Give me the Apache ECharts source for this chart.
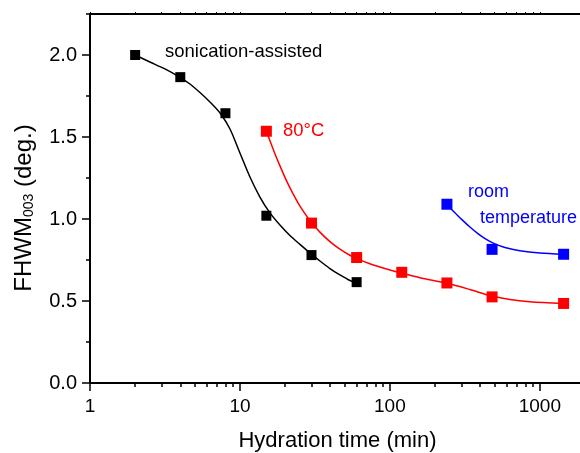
<!DOCTYPE html>
<html>
<head>
<meta charset="utf-8">
<script src="https://cdn.jsdelivr.net/npm/echarts@6/dist/echarts.min.js"></script>
<style>
html,body{margin:0;padding:0;background:#fff;}
#chart{width:580px;height:453px;}
</style>
</head>
<body>
<div id="chart"></div>
<script>
// Measured points
const sonicX = [2, 4, 8, 15, 30, 60];
const sonicY = [2.00, 1.865, 1.645, 1.02, 0.78, 0.615];
const hotX = [15, 30, 60, 120, 240, 480, 1440];
const hotY = [1.535, 0.975, 0.765, 0.675, 0.61, 0.525, 0.485];
const roomX = [240, 480, 1440];
const roomY = [1.09, 0.815, 0.785];

// Fitted curves
const sonicFitX = [2.0, 2.51, 3.16, 3.98, 4.64, 5.41, 6.31, 7.36, 8.58, 10.0, 11.66, 13.59, 15.85, 18.48, 21.54, 25.12, 29.29, 34.15, 39.81, 46.42, 54.12, 60];
const sonicFitY = [2.000, 1.957, 1.915, 1.864, 1.823, 1.771, 1.713, 1.646, 1.549, 1.402, 1.256, 1.134, 1.037, 0.963, 0.899, 0.845, 0.793, 0.744, 0.698, 0.659, 0.625, 0.610];
const hotFitX = [15.06, 15.85, 17.11, 18.48, 20.57, 22.56, 25.12, 29.29, 34.15, 39.81, 46.42, 54.12, 63.10, 73.56, 85.77, 100, 119.7, 158.5, 239.9, 341.5, 478.6, 631.0, 857.7, 1429];
const hotFitY = [1.532, 1.477, 1.398, 1.324, 1.228, 1.155, 1.078, 0.990, 0.920, 0.862, 0.816, 0.779, 0.751, 0.727, 0.707, 0.689, 0.670, 0.642, 0.608, 0.570, 0.530, 0.509, 0.496, 0.485];
const roomFitX = [238.8, 271.3, 302.0, 341.5, 386.2, 436.5, 501.2, 584.8, 735.6, 1000, 1430];
const roomFitY = [1.088, 1.038, 0.996, 0.951, 0.911, 0.877, 0.848, 0.826, 0.807, 0.793, 0.785];

// Tick values
const xMajorTicks = [1, 10, 100, 1000];
const xMinorTicks = [2,3,4,5,6,7,8,9,20,30,40,50,60,70,80,90,200,300,400,500,600,700,800,900];
const yMajorTicks = [0, 0.5, 1.0, 1.5, 2.0];
const yMinorTicks = [0.25, 0.75, 1.25, 1.75, 2.25];

const zip = (xs, ys) => xs.map((x, i) => [x, ys[i]]);
const FONT = 'Arial, "Liberation Sans", Helvetica, sans-serif';

const chart = echarts.init(document.getElementById('chart'), null, {renderer: 'canvas'});

const baseX = {type: 'log', logBase: 10, min: 1, max: 2000, splitLine: {show: false}};
const baseY = {type: 'value', min: 0, max: 2.25, interval: 0.25, splitLine: {show: false}};

chart.setOption({
  animation: false,
  backgroundColor: '#fff',
  grid: {left: 90, top: 14, width: 495, height: 369, containLabel: false, outerBoundsMode: 'none'},
  xAxis: [
    Object.assign({}, baseX, {
      position: 'bottom',
      name: 'Hydration time (min)', nameLocation: 'middle', nameGap: 47,
      nameTextStyle: {fontFamily: FONT, fontSize: 22, color: '#000'},
      axisLine: {lineStyle: {color: '#000', width: 2}},
      axisTick: {customValues: xMajorTicks, length: 8, lineStyle: {color: '#000', width: 1.5}},
      axisLabel: {customValues: xMajorTicks, fontFamily: FONT, fontSize: 19, color: '#000', margin: 14,
        formatter: v => String(Math.round(v))}
    }),
    Object.assign({}, baseX, {
      position: 'bottom',
      axisLine: {show: false},
      axisTick: {customValues: xMinorTicks, length: 4, lineStyle: {color: '#000', width: 1.5}},
      axisLabel: {show: false}
    }),
    Object.assign({}, baseX, {
      position: 'top',
      axisLine: {lineStyle: {color: '#000', width: 2}},
      axisTick: {customValues: xMajorTicks.concat(xMinorTicks), length: 2, lineStyle: {color: '#000', width: 1}},
      axisLabel: {show: false}
    })
  ],
  yAxis: [
    Object.assign({}, baseY, {
      position: 'left',
      axisLine: {lineStyle: {color: '#000', width: 2}},
      axisTick: {customValues: yMajorTicks, length: 8, lineStyle: {color: '#000', width: 1.5}},
      axisLabel: {customValues: yMajorTicks, fontFamily: FONT, fontSize: 20, color: '#000', margin: 13,
        formatter: v => Number(v).toFixed(1)}
    }),
    Object.assign({}, baseY, {
      position: 'left',
      axisLine: {show: false},
      axisTick: {customValues: yMinorTicks, length: 4, lineStyle: {color: '#000', width: 1.5}},
      axisLabel: {show: false}
    })
  ],
  graphic: [
    {type: 'text', x: 24, y: 208, rotation: Math.PI / 2,
      style: {
        text: '{t|FHWM}{s|003}{t| (deg.)}', align: 'center', verticalAlign: 'middle', fill: '#000',
        rich: {
          t: {fontFamily: FONT, fontSize: 24, fill: '#000'},
          s: {fontFamily: FONT, fontSize: 14, fill: '#000', verticalAlign: 'bottom', padding: [10, 0, 0, 0]}
        }
      }},
    {type: 'text', x: 165, y: 52, style: {text: 'sonication-assisted', font: '18.5px ' + FONT, fill: '#000', verticalAlign: 'middle'}},
    {type: 'text', x: 283, y: 131, style: {text: '80°C', font: '18.5px ' + FONT, fill: '#ff0000', verticalAlign: 'middle'}},
    {type: 'text', x: 468, y: 192, style: {text: 'room', font: '18px ' + FONT, fill: '#0000ff', verticalAlign: 'middle'}},
    {type: 'text', x: 480, y: 218, style: {text: 'temperature', font: '18px ' + FONT, fill: '#0000ff', verticalAlign: 'middle'}}
  ],
  series: [
    {type: 'line', name: 'sonic fit', data: zip(sonicFitX, sonicFitY), smooth: 0.3, showSymbol: false,
      lineStyle: {color: '#000', width: 1.5}, z: 2},
    {type: 'line', name: 'hot fit', data: zip(hotFitX, hotFitY), smooth: 0.3, showSymbol: false,
      lineStyle: {color: '#ff0000', width: 1.5}, z: 2},
    {type: 'line', name: 'room fit', data: zip(roomFitX, roomFitY), smooth: 0.3, showSymbol: false,
      lineStyle: {color: '#0000ff', width: 1.5}, z: 2},
    {type: 'scatter', name: 'sonication-assisted', data: zip(sonicX, sonicY), symbol: 'rect', symbolSize: 10,
      itemStyle: {color: '#000', opacity: 1}, z: 3},
    {type: 'scatter', name: '80°C', data: zip(hotX, hotY), symbol: 'rect', symbolSize: 11,
      itemStyle: {color: '#ff0000', opacity: 1}, z: 3},
    {type: 'scatter', name: 'room temperature', data: zip(roomX, roomY), symbol: 'rect', symbolSize: 11,
      itemStyle: {color: '#0000ff', opacity: 1}, z: 3}
  ]
});
</script>
</body>
</html>
